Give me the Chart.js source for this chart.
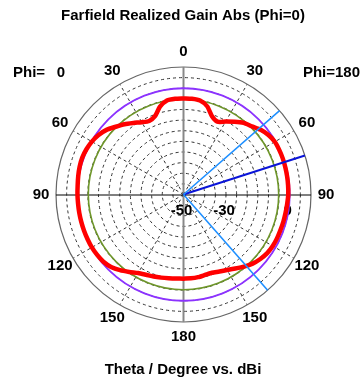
<!DOCTYPE html>
<html>
<head>
<meta charset="utf-8">
<script src="https://cdn.jsdelivr.net/npm/chart.js@4.4.1/dist/chart.umd.min.js"></script>
<style>
  html, body { margin: 0; padding: 0; background: #fff; }
  canvas { display: block; }
</style>
</head>
<body>
<canvas id="myChart" width="364" height="383"></canvas>
<script>
// FARFIELD REALIZED GAIN ABS, dBi per theta (degrees)
const theta = [0, 5, 10, 15, 20, 25, 30, 35, 40, 45, 50, 55, 60, 65, 70, 75, 80, 85, 90,
  95, 100, 105, 110, 115, 120, 125, 130, 135, 140, 145, 150, 155, 160, 165, 170, 175, 180];

// left half of the plot
const gainPhi0 = [-4.8, -4.8, -5.1, -7.2, -10.8, -11.8, -10.7, -8.9, -6.8, -4.9, -2.7, -1.2, -0.2,
  0.4, 0.7, 0.6, 0.3, 0.0, -0.1, -0.2, -0.2, -0.2, -0.2, -0.2, -0.2, -0.4, -0.8, -1.8, -3.5,
  -5.5, -7.3, -8.3, -8.9, -9.5, -10.0, -10.3, -10.4];

// right half of the plot
const gainPhi180 = [-4.8, -4.8, -5.1, -7.0, -10.8, -12.2, -10.4, -8.2, -6.0, -4.6, -2.6, -1.2, -0.4,
  -0.3, -0.3, -0.4, -0.5, -0.6, -0.7, -1.0, -1.2, -1.3, -1.4, -1.4, -1.5, -1.9, -2.8, -4.0, -5.7,
  -7.5, -9.0, -10.0, -10.8, -10.8, -10.5, -10.4, -10.4];

const mainLobeLevel = 0.0;    // purple circle
const halfPowerLevel = -5.2;  // green circle
const beamEdgeAngles = [48.9, 138.7];  // light blue lines (phi=180 side)
const mainLobeAngle = 72.2;            // dark blue line

const rMin = -50;
const rMax = 10;
const ringStep = 5;
const ringLabels = [-50, -30, 0];
const angleTicks = [0, 30, 60, 90, 120, 150, 180];
const spokeAngles = [30, 60, 120, 150];

// polar -> cartesian in dB units, side = -1 (phi=0, left) or 1 (phi=180, right)
const toXY = (t, db, side) => {
  const r = db - rMin;
  const a = t * Math.PI / 180;
  return { x: side * r * Math.sin(a), y: r * Math.cos(a) };
};

let gainPoints = theta.map((t, i) => toXY(t, gainPhi0[i], -1));
for (let i = theta.length - 1; i >= 0; i--) {
  gainPoints.push(toXY(theta[i], gainPhi180[i], 1));
}

const rayTo = (t) => [{ x: 0, y: 0 }, toXY(t, rMax, 1)];

const drawCircle = (ctx, cx, cy, r) => {
  ctx.beginPath();
  ctx.arc(cx, cy, r, 0, Math.PI * 2);
  ctx.stroke();
};

const polarGrid = {
  id: 'polarGrid',
  beforeDatasetsDraw(chart) {
    const { ctx, scales: { x, y } } = chart;
    const cx = x.getPixelForValue(0);
    const cy = y.getPixelForValue(0);
    const rad = (db) => x.getPixelForValue(db - rMin) - cx;
    const R = rad(rMax);
    ctx.save();

    // dashed rings
    ctx.setLineDash([3, 3]);
    ctx.strokeStyle = '#333';
    ctx.lineWidth = 1;
    for (let v = rMin + ringStep; v < rMax; v += ringStep) {
      drawCircle(ctx, cx, cy, rad(v));
    }
    // dashed spokes
    spokeAngles.forEach((t) => {
      const a = t * Math.PI / 180;
      [-1, 1].forEach((s) => {
        ctx.beginPath();
        ctx.moveTo(cx, cy);
        ctx.lineTo(cx + s * R * Math.sin(a), cy - R * Math.cos(a));
        ctx.stroke();
      });
    });
    ctx.setLineDash([]);

    // outer circle
    ctx.strokeStyle = '#666';
    ctx.lineWidth = 1.2;
    drawCircle(ctx, cx, cy, R);

    // axes
    ctx.strokeStyle = '#888';
    ctx.lineWidth = 2;
    ctx.beginPath();
    ctx.moveTo(cx, cy - R);
    ctx.lineTo(cx, cy + R);
    ctx.stroke();
    ctx.strokeStyle = '#000';
    ctx.lineWidth = 1;
    ctx.beginPath();
    ctx.moveTo(cx - R, cy + 0.5);
    ctx.lineTo(cx + R, cy + 0.5);
    ctx.stroke();

    // radial labels
    ctx.fillStyle = '#000';
    ctx.font = 'bold 15px "Liberation Sans", Arial, sans-serif';
    ctx.textAlign = 'center';
    ctx.textBaseline = 'middle';
    ringLabels.forEach((v) => {
      ctx.fillText(String(v), cx + rad(v) - 2, cy + 16);
    });

    // main lobe / half power circles
    ctx.strokeStyle = '#8c32ff';
    ctx.lineWidth = 1.8;
    drawCircle(ctx, cx, cy, rad(mainLobeLevel));
    ctx.strokeStyle = '#6e962a';
    ctx.lineWidth = 1.6;
    drawCircle(ctx, cx, cy, rad(halfPowerLevel));
    ctx.restore();
  },
  afterDraw(chart) {
    const { ctx, scales: { x, y } } = chart;
    const cx = x.getPixelForValue(0);
    const cy = y.getPixelForValue(0);
    const R = x.getPixelForValue(rMax - rMin) - cx;
    ctx.save();
    ctx.fillStyle = '#000';
    ctx.font = 'bold 15px "Liberation Sans", Arial, sans-serif';
    ctx.textAlign = 'center';
    ctx.textBaseline = 'middle';
    angleTicks.forEach((t) => {
      const a = t * Math.PI / 180;
      const lr = R + 15;
      const sides = (t === 0 || t === 180) ? [1] : [-1, 1];
      sides.forEach((s) => {
        ctx.fillText(String(t), cx + s * lr * Math.sin(a), cy - lr * Math.cos(a));
      });
    });
    ctx.fillText('Farfield Realized Gain Abs (Phi=0)', 183, 16);
    ctx.fillText('Theta / Degree vs. dBi', 183, 370);
    ctx.textAlign = 'left';
    ctx.fillText('Phi=', 13, 73);
    ctx.textAlign = 'right';
    ctx.fillText('0', 65, 73);
    ctx.fillText('Phi=180', 360, 73);
    ctx.restore();
  }
};

const ctx = document.getElementById('myChart');

new Chart(ctx, {
  type: 'scatter',
  data: {
    datasets: [
      {
        label: 'beam1',
        data: rayTo(beamEdgeAngles[0]),
        showLine: true,
        borderColor: '#1e8fff',
        borderWidth: 1.6,
        pointRadius: 0
      },
      {
        label: 'beam2',
        data: rayTo(beamEdgeAngles[1]),
        showLine: true,
        borderColor: '#1e8fff',
        borderWidth: 1.6,
        pointRadius: 0
      },
      {
        label: 'main',
        data: rayTo(mainLobeAngle),
        showLine: true,
        borderColor: '#0a14d8',
        borderWidth: 2,
        pointRadius: 0
      },
      {
        label: 'Farfield Realized Gain Abs',
        data: gainPoints,
        showLine: true,
        borderColor: '#ff0000',
        borderWidth: 4.5,
        borderJoinStyle: 'round',
        borderCapStyle: 'round',
        tension: 0.2,
        pointRadius: 0
      }
    ]
  },
  options: {
    responsive: false,
    animation: false,
    devicePixelRatio: 1,
    layout: {
      padding: { left: 56, right: 53, top: 67, bottom: 61 }
    },
    plugins: {
      legend: { display: false },
      tooltip: { enabled: false }
    },
    scales: {
      x: { type: 'linear', min: -(rMax - rMin), max: rMax - rMin, display: false },
      y: { type: 'linear', min: -(rMax - rMin), max: rMax - rMin, display: false }
    }
  },
  plugins: [polarGrid]
});
</script>
</body>
</html>
